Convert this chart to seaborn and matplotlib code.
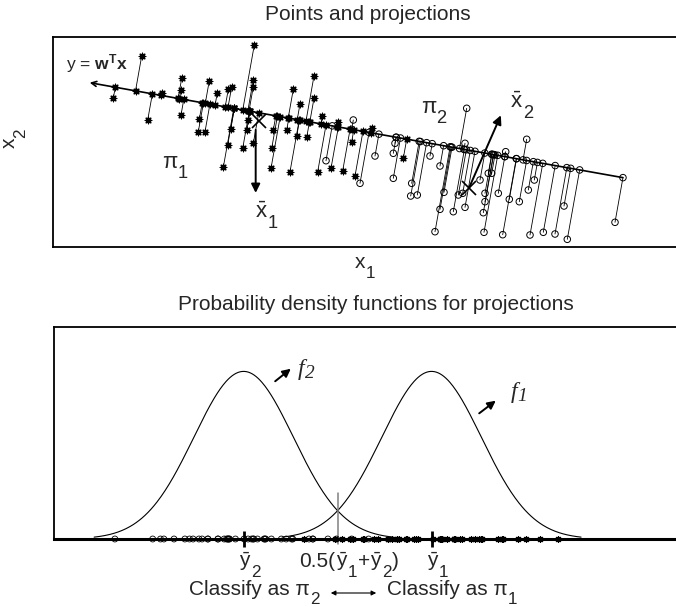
import numpy as np
import pandas as pd
import matplotlib
matplotlib.use("Agg")
import matplotlib.pyplot as plt
import seaborn as sns

# class pi_1 (asterisks): coordinates x1, x2
pi1_x1 = [0.887, 0.603, 0.947, 1.287, 1.280, 1.280, 1.563, 1.463, 1.453, 1.520,
          1.643, 1.753, 1.787, 1.777, 1.747, 1.703, 2.013, 2.003, 2.003, 1.953,
          1.937, 1.897, 2.003, 2.203, 2.187, 2.180, 2.403, 2.337, 2.370, 2.610,
          2.610, 2.537, 2.437, 2.647, 2.693, 2.780, 2.897, 2.987, 3.020, 3.503,
          1.087, 2.470, 3.190, 2.850]
pi1_x2 = [1.910, 1.487, 1.270, 1.687, 1.570, 1.320, 1.663, 1.277, 1.153, 1.153,
          1.543, 1.577, 1.603, 1.177, 1.020, 0.797, 2.020, 1.670, 1.603, 1.270,
          1.170, 0.987, 1.037, 1.170, 0.987, 0.787, 1.577, 1.170, 0.753, 1.710,
          1.487, 1.097, 1.110, 0.753, 1.310, 0.787, 0.763, 1.053, 0.710, 0.887,
          1.537, 1.430, 1.190, 1.250]

# class pi_2 (circles)
pi2_x1 = [2.730, 3.003, 3.070, 3.220, 3.403, 3.403, 3.420, 3.587, 3.577, 3.643,
          3.770, 3.870, 3.910, 3.870, 3.820, 4.003, 4.137, 4.120, 4.120, 4.053,
          4.097, 4.270, 4.320, 4.320, 4.303, 4.310, 4.353, 4.387, 4.453, 4.497,
          4.527, 4.563, 4.663, 4.737, 4.753, 4.813, 4.770, 4.903, 5.020, 5.110,
          5.143, 5.620]
pi2_x2 = [0.863, 1.270, 0.637, 0.910, 0.937, 0.687, 1.037, 0.637, 0.510, 0.520,
          0.910, 0.810, 0.547, 0.377, 0.153, 0.353, 1.387, 1.037, 0.397, 0.520,
          0.537, 0.670, 0.537, 0.453, 0.343, 0.147, 0.737, 0.737, 0.537, 0.123,
          0.953, 0.477, 0.453, 1.077, 0.570, 0.670, 0.120, 0.147, 0.130, 0.410,
          0.077, 0.247]

# direction w of the projection line and a point on it
w_dir = [-0.9845, 0.1753]
line_origin = [5.703, 0.693]
line_tip = 5.42      # y value where the arrow of the line ends
pdf_sd = 0.58        # common sd of the two projected normal densities

W, H = 676, 607


def fxy(px, py):
    return px / W, 1 - py / H


def rich(fig, px, base_y, parts, size, drop=0.5, rotation=0, **kw):
    """Text made of pieces, subscripts MATLAB style (big and low).
    px, base_y: start of the baseline in pixels from the top left."""
    r = fig.canvas.get_renderer()
    em = size * 100 / 72
    adv = 0.0
    for s, is_sub in parts:
        fs = size * 0.82 if is_sub else size
        dy = drop * em if is_sub else 0.0
        if rotation == 90:
            pos = fxy(px + dy, base_y - adv)
        else:
            pos = fxy(px + adv, base_y + dy)
        t = fig.text(*pos, s, fontsize=fs, ha="left", va="baseline",
                     rotation=rotation, rotation_mode="anchor", **kw)
        bb = t.get_window_extent(r)
        adv += bb.height if rotation == 90 else bb.width


def main():
    sns.set_style("white")
    plt.rcParams["font.family"] = ["Liberation Sans", "DejaVu Sans"]
    plt.rcParams["mathtext.fontset"] = "custom"
    plt.rcParams["mathtext.rm"] = "Liberation Sans"
    plt.rcParams["mathtext.it"] = "Liberation Sans:italic"
    plt.rcParams["mathtext.bf"] = "Liberation Sans:bold"

    w = np.array(w_dir)
    org = np.array(line_origin)
    df = pd.concat([
        pd.DataFrame({"cls": "pi1", "x1": pi1_x1, "x2": pi1_x2}),
        pd.DataFrame({"cls": "pi2", "x1": pi2_x1, "x2": pi2_x2}),
    ], ignore_index=True)
    df["y"] = (df["x1"] - org[0]) * w[0] + (df["x2"] - org[1]) * w[1]
    df["p1"] = org[0] + df["y"] * w[0]
    df["p2"] = org[1] + df["y"] * w[1]
    d1 = df[df["cls"] == "pi1"]
    d2 = df[df["cls"] == "pi2"]
    m1 = d1[["x1", "x2"]].mean().values
    m2 = d2[["x1", "x2"]].mean().values
    ybar1 = d1["y"].mean()
    ybar2 = d2["y"].mean()
    mid = 0.5 * (ybar1 + ybar2)

    fig = plt.figure(figsize=(W / 100, H / 100), dpi=100)
    ax = fig.add_axes([53 / W, 1 - 247 / H, 630 / W, 210 / H])
    ax2 = fig.add_axes([54 / W, 1 - 539 / H, 644 / W, 212 / H])

    star = (8, 2, 0)

    # ---- top panel: points and projections
    for _, r in df.iterrows():
        ax.plot([r["x1"], r["p1"]], [r["x2"], r["p2"]], color="k", lw=0.6)
    y_min = df["y"].min()
    start = org + y_min * w
    tip = org + line_tip * w
    ax.annotate("", xy=tip, xytext=start,
                arrowprops=dict(arrowstyle="->", lw=1.2, color="k",
                                shrinkA=0, shrinkB=0, mutation_scale=9))
    for xcol, ycol in [("x1", "x2"), ("p1", "p2")]:
        sns.scatterplot(x=d1[xcol], y=d1[ycol], marker=star, color="k",
                        s=22, linewidth=0.9, ax=ax, zorder=3)
        sns.scatterplot(x=d2[xcol], y=d2[ycol], marker="o", facecolor="none",
                        edgecolor="k", s=22, linewidth=0.7, ax=ax, zorder=3)
    ax.plot([m1[0], m2[0]], [m1[1], m2[1]], "x", color="k", ms=10, mew=1.2,
            zorder=4, linestyle="none")
    ax.annotate("", xy=(m1[0] - 0.03, m1[1] - 0.72),
                xytext=(m1[0] - 0.03, m1[1] - 0.09),
                arrowprops=dict(arrowstyle="-|>", lw=1.4, color="k",
                                shrinkA=0, shrinkB=0, mutation_scale=13))
    ax.annotate("", xy=(m2[0] + 0.32, m2[1] + 0.73), xytext=(m2[0], m2[1]),
                arrowprops=dict(arrowstyle="-|>", lw=1.4, color="k",
                                shrinkA=0, shrinkB=0, mutation_scale=13))
    ax.set_xlim(0, 6.30)
    ax.set_ylim(0, 2.10)
    ax.set_xticks([])
    ax.set_yticks([])
    ax.set_xlabel("")
    ax.set_ylabel("")
    for s in ax.spines.values():
        s.set_linewidth(1.3)
        s.set_color("k")

    # ---- bottom panel: densities of the projections
    for mu in [ybar2, ybar1]:
        grid = np.linspace(mu - 3 * pdf_sd, mu + 3 * pdf_sd, 300)
        dens = np.exp(-0.5 * ((grid - mu) / pdf_sd) ** 2) / (pdf_sd * np.sqrt(2 * np.pi))
        sns.lineplot(x=grid, y=dens, color="k", lw=0.8, ax=ax2)
    ax2.plot([mid, mid], [-0.02, 0.19], color="0.5", lw=1.1, clip_on=False)
    sns.scatterplot(x=d2["y"], y=np.zeros(len(d2)), marker="o", facecolor="none",
                    edgecolor="k", s=18, linewidth=0.6, ax=ax2, clip_on=False, zorder=3)
    sns.scatterplot(x=d1["y"], y=np.zeros(len(d1)), marker=star, color="k",
                    s=18, linewidth=0.9, ax=ax2, clip_on=False, zorder=3)
    ax2.plot([ybar2, ybar1], [0, 0], "|", color="k", ms=12, mew=2,
             clip_on=False, zorder=4)
    ax2.set_xlim(-0.705, 6.79)
    ax2.set_ylim(0, 0.87)
    ax2.set_xticks([])
    ax2.set_yticks([])
    ax2.set_xlabel("")
    ax2.set_ylabel("")
    for s in ax2.spines.values():
        s.set_linewidth(1.3)
        s.set_color("k")
    ax2.spines["bottom"].set_linewidth(2.2)

    # labels under the axis, placed at the data positions
    ybar = r"$\bar{\mathrm{y}}$"
    px2 = ax2.transData.transform((ybar2, 0))[0]
    px1 = ax2.transData.transform((ybar1, 0))[0]
    pxm = ax2.transData.transform((mid, 0))[0]
    rich(fig, px2 - 5, 567, [(ybar, False), ("2", True)], 15)
    rich(fig, px1 - 5, 567, [(ybar, False), ("1", True)], 15)
    rich(fig, pxm - 38, 567, [("0.5(", False), (ybar, False), ("1", True),
                              ("+", False), (ybar, False), ("2", True),
                              (")", False)], 15)

    # ---- texts and arrows in figure coordinates
    fig.text(*fxy(368, 15), "Points and projections", ha="center", va="center", fontsize=15)
    fig.text(*fxy(376, 305), "Probability density functions for projections",
             ha="center", va="center", fontsize=15)
    rich(fig, 355, 268, [("x", False), ("1", True)], 15)
    rich(fig, 15, 148, [("x", False), ("2", True)], 15, rotation=90)
    fig.text(*fxy(66, 64), r"y = $\mathbf{w}^\mathbf{T}\mathbf{x}$", ha="left",
             va="center", fontsize=12.5)
    rich(fig, 162, 168, [("π", False), ("1", True)], 16, drop=0.45)
    rich(fig, 421, 113, [("π", False), ("2", True)], 16, drop=0.45)
    xbar = r"$\bar{\mathrm{x}}$"
    rich(fig, 255, 218, [(xbar, False), ("1", True)], 16, drop=0.45)
    rich(fig, 510, 108, [(xbar, False), ("2", True)], 16, drop=0.45)
    rich(fig, 298, 375, [("f", False), ("2", True)], 17, drop=0.12,
         family="Liberation Serif", style="italic")
    rich(fig, 511, 398, [("f", False), ("1", True)], 17, drop=0.12,
         family="Liberation Serif", style="italic")
    rich(fig, 189, 595, [("Classify as π", False), ("2", True)], 15, drop=0.45)
    rich(fig, 387, 595, [("Classify as π", False), ("1", True)], 15, drop=0.45)

    arrows = [((273, 383), (293, 367), "-|>", 1.4, 12),
              ((477, 415), (498, 399), "-|>", 1.4, 12),
              ((328, 593), (379, 593), "<|-|>", 0.8, 7)]
    for (sx, sy), (ex, ey), style, lw, ms in arrows:
        fig.add_artist(matplotlib.patches.FancyArrowPatch(
            fxy(sx, sy), fxy(ex, ey), transform=fig.transFigure,
            arrowstyle=style, lw=lw, color="k", mutation_scale=ms))

    fig.savefig("out.png", dpi=100)


if __name__ == "__main__":
    main()
